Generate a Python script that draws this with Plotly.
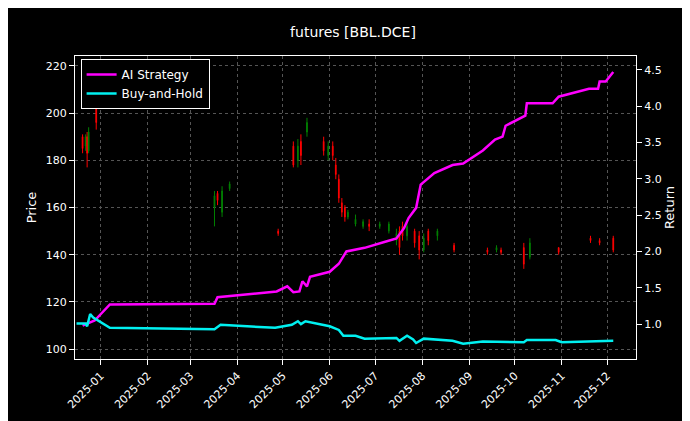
import plotly.graph_objects as go

# candles (sparse trading days)
c_date = ["2024-12-20", "2024-12-22", "2024-12-23", "2024-12-24", "2024-12-29",
          "2025-03-17", "2025-03-19", "2025-03-22", "2025-03-27", "2025-04-28",
          "2025-05-08", "2025-05-11", "2025-05-13", "2025-05-17", "2025-05-28", "2025-05-31",
          "2025-06-03", "2025-06-05", "2025-06-07", "2025-06-09", "2025-06-11", "2025-06-13",
          "2025-06-18", "2025-06-23", "2025-06-27", "2025-07-04", "2025-07-10", "2025-07-15",
          "2025-07-17", "2025-07-19", "2025-07-22", "2025-07-27", "2025-07-30", "2025-08-02",
          "2025-08-05", "2025-08-11", "2025-08-22", "2025-09-13", "2025-09-19", "2025-09-22",
          "2025-10-07", "2025-10-11", "2025-10-30", "2025-11-20", "2025-11-26", "2025-12-05"]
c_open = [190, 186, 190, 184, 202,
          160, 166, 158, 168, 150,
          186, 180, 188, 192, 188, 182,
          186, 178, 172, 162, 160, 156,
          153, 152, 153, 152, 150, 146,
          150, 152, 148, 150, 148, 142,
          150, 148, 144, 142, 142, 142,
          143, 139, 143, 147, 146, 147]
c_close = [185, 190, 183, 192, 196,
           165, 163, 167, 170, 149,
           178, 186, 182, 196, 184, 186,
           182, 174, 164, 158, 156, 158,
           155, 154, 152, 153, 153, 149,
           143, 148, 152, 145, 142, 147,
           146, 150, 142, 141, 143, 141,
           136, 145, 141, 146, 145, 142]
c_high = [191, 191, 192, 194, 204,
          167, 167, 169, 171, 151,
          188, 189, 191, 198, 190, 188,
          188, 181, 174, 164, 161, 159,
          157, 155, 155, 154, 154, 151,
          152, 154, 154, 151, 150, 149,
          151, 151, 145, 143, 144, 143,
          145, 147, 143, 148, 147, 148]
c_low = [183, 184, 177, 183, 193,
         152, 161, 156, 167, 148,
         177, 177, 178, 190, 182, 180,
         180, 172, 162, 156, 154, 155,
         152, 151, 150, 151, 149, 144,
         140, 146, 146, 143, 138, 141,
         144, 146, 141, 140, 141, 140,
         134, 138, 140, 145, 144, 141]

ai_date = ["2024-12-20", "2024-12-28", "2025-01-07", "2025-03-17", "2025-03-19", "2025-04-27",
           "2025-05-04", "2025-05-08", "2025-05-12", "2025-05-14", "2025-05-17", "2025-05-19",
           "2025-06-01", "2025-06-07", "2025-06-12", "2025-06-18", "2025-06-24", "2025-07-07",
           "2025-07-15", "2025-07-20", "2025-07-23", "2025-07-28", "2025-07-31", "2025-08-09",
           "2025-08-21", "2025-08-28", "2025-09-10", "2025-09-18", "2025-09-23", "2025-09-25",
           "2025-10-08", "2025-10-09", "2025-10-26", "2025-10-30", "2025-11-19", "2025-11-25",
           "2025-11-26", "2025-11-30", "2025-12-05"]
ai_ret = [0.98, 1.05, 1.27, 1.28, 1.37, 1.45,
          1.52, 1.44, 1.45, 1.59, 1.52, 1.65,
          1.72, 1.83, 2.0, 2.02, 2.05, 2.13,
          2.18, 2.32, 2.46, 2.6, 2.92, 3.08,
          3.19, 3.21, 3.39, 3.54, 3.58, 3.73,
          3.87, 4.04, 4.04, 4.13, 4.24, 4.24,
          4.34, 4.34, 4.47]

bh_date = ["2024-12-16", "2024-12-22", "2024-12-23", "2024-12-25", "2024-12-27", "2025-01-07",
           "2025-03-17", "2025-03-21", "2025-04-26", "2025-05-07", "2025-05-11", "2025-05-13",
           "2025-05-16", "2025-06-01", "2025-06-07", "2025-06-10", "2025-06-18", "2025-06-24",
           "2025-07-15", "2025-07-17", "2025-07-22", "2025-07-26", "2025-07-28", "2025-08-02",
           "2025-08-21", "2025-08-28", "2025-09-10", "2025-10-07", "2025-10-09", "2025-10-28",
           "2025-11-01", "2025-12-05"]
bh_ret = [1.01, 1.01, 0.97, 1.14, 1.09, 0.95,
          0.93, 0.99, 0.95, 0.99, 1.04, 1.0,
          1.04, 0.97, 0.92, 0.84, 0.84, 0.8,
          0.81, 0.77, 0.84, 0.79, 0.74, 0.8,
          0.77, 0.73, 0.76, 0.75, 0.78, 0.78,
          0.75, 0.77]

fig = go.Figure()
fig.add_trace(go.Candlestick(
    x=c_date, open=c_open, high=c_high, low=c_low, close=c_close,
    increasing=dict(line=dict(color="green", width=1), fillcolor="green"),
    decreasing=dict(line=dict(color="red", width=1), fillcolor="red"),
    showlegend=False, whiskerwidth=0))
fig.add_trace(go.Scatter(x=ai_date, y=ai_ret, name="AI Strategy", yaxis="y2",
                         mode="lines", line=dict(color="#ff00ff", width=2.5)))
fig.add_trace(go.Scatter(x=bh_date, y=bh_ret, name="Buy-and-Hold", yaxis="y2",
                         mode="lines", line=dict(color="#00f0f0", width=2.5)))

grid = dict(showgrid=True, gridcolor="#555555", griddash="dot", gridwidth=0.6)
fig.update_layout(
    width=690, height=421,
    paper_bgcolor="black", plot_bgcolor="black",
    font=dict(family="DejaVu Sans", size=11, color="white"),
    title=dict(text="futures [BBL.DCE]", x=0.5, xanchor="center", y=0.955, font=dict(size=14)),
    margin=dict(l=67, r=62, t=48, b=70),
    xaxis=dict(type="date", range=["2024-12-15", "2025-12-20"], dtick="M1",
               tickformat="%Y-%m", tickangle=-45, rangeslider=dict(visible=False),
               showline=True, linecolor="white", mirror=True, ticks="outside",
               tickcolor="white", **grid),
    yaxis=dict(title=dict(text="Price", standoff=6), range=[95.8, 224.2], dtick=20,
               showline=True, linecolor="white", ticks="outside", tickcolor="white", **grid),
    yaxis2=dict(title=dict(text="Return", standoff=4), overlaying="y", side="right",
                range=[0.52, 4.69], dtick=0.5, tickformat=".1f", showgrid=False,
                showline=True, linecolor="white", ticks="outside", tickcolor="white"),
    legend=dict(x=0.01, y=0.99, xanchor="left", yanchor="top", bgcolor="black",
                bordercolor="white", borderwidth=1, font=dict(size=12)),
)

fig.write_html("out.html")
